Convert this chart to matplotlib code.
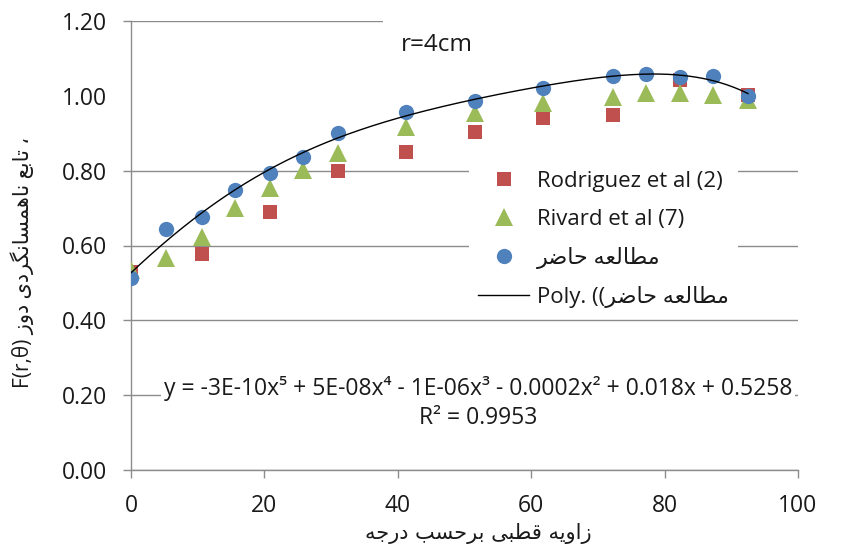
import numpy as np
import matplotlib
matplotlib.use("Agg")
import matplotlib.pyplot as plt
from matplotlib.lines import Line2D
from matplotlib.patches import Rectangle

plt.rcParams['font.family'] = ['Open Sans', 'DejaVu Sans']

# ---------------- data ----------------
angle_present = [0, 5.3, 10.6, 15.6, 20.8, 25.8, 31.0, 41.3, 51.6, 61.8, 72.2, 77.2, 82.3, 87.3, 92.5]
f_present = [0.513, 0.644, 0.676, 0.747, 0.793, 0.836, 0.902, 0.958, 0.987, 1.021, 1.052, 1.059, 1.050, 1.053, 1.000]

angle_rivard = [0, 5.3, 10.6, 15.6, 20.8, 25.8, 31.0, 41.3, 51.6, 61.8, 72.2, 77.2, 82.3, 87.3, 92.5]
f_rivard = [0.535, 0.567, 0.624, 0.700, 0.753, 0.802, 0.848, 0.918, 0.954, 0.981, 0.998, 1.007, 1.007, 1.003, 0.989]

angle_rodriguez = [0, 10.6, 20.8, 31.0, 41.3, 51.6, 61.8, 72.2, 82.3, 92.5]
f_rodriguez = [0.530, 0.578, 0.689, 0.800, 0.851, 0.903, 0.941, 0.949, 1.043, 1.003]

x_ticks = [0, 20, 40, 60, 80, 100]
y_ticks = [0.0, 0.2, 0.4, 0.6, 0.8, 1.0, 1.2]
y_tick_labels = ['0.00', '0.20', '0.40', '0.60', '0.80', '1.00', '1.20']

# ------------- Persian shaping helper (matplotlib has no bidi/shaping) -------------
FORMS = {
    'ا': ('\uFE8D', '\uFE8E', None, None),
    'ب': ('\uFE8F', '\uFE90', '\uFE91', '\uFE92'),
    'ت': ('\uFE95', '\uFE96', '\uFE97', '\uFE98'),
    'ج': ('\uFE9D', '\uFE9E', '\uFE9F', '\uFEA0'),
    'ح': ('\uFEA1', '\uFEA2', '\uFEA3', '\uFEA4'),
    'د': ('\uFEA9', '\uFEAA', None, None),
    'ر': ('\uFEAD', '\uFEAE', None, None),
    'ز': ('\uFEAF', '\uFEB0', None, None),
    'س': ('\uFEB1', '\uFEB2', '\uFEB3', '\uFEB4'),
    'ض': ('\uFEBD', '\uFEBE', '\uFEBF', '\uFEC0'),
    'ط': ('\uFEC1', '\uFEC2', '\uFEC3', '\uFEC4'),
    'ع': ('\uFEC9', '\uFECA', '\uFECB', '\uFECC'),
    'ق': ('\uFED5', '\uFED6', '\uFED7', '\uFED8'),
    'ل': ('\uFEDD', '\uFEDE', '\uFEDF', '\uFEE0'),
    'م': ('\uFEE1', '\uFEE2', '\uFEE3', '\uFEE4'),
    'ن': ('\uFEE5', '\uFEE6', '\uFEE7', '\uFEE8'),
    'ه': ('\uFEE9', '\uFEEA', '\uFEEB', '\uFEEC'),
    'و': ('\uFEED', '\uFEEE', None, None),
    'ی': ('\uFBFC', '\uFBFD', '\uFBFE', '\uFBFF'),
    'گ': ('\uFB92', '\uFB93', '\uFB94', '\uFB95'),
}


def shape_word(word):
    out = []
    n = len(word)
    for i, ch in enumerate(word):
        if ch not in FORMS:
            out.append(ch)
            continue
        iso, fin, ini, med = FORMS[ch]
        prev = word[i - 1] if i > 0 else None
        nxt = word[i + 1] if i < n - 1 else None
        join_prev = prev in FORMS and FORMS[prev][2] is not None
        join_next = nxt in FORMS and ini is not None
        if join_prev and join_next:
            out.append(med)
        elif join_prev:
            out.append(fin)
        elif join_next:
            out.append(ini)
        else:
            out.append(iso)
    return ''.join(reversed(out))


def visual(words):
    # words given in logical (reading) order; displayed right-to-left
    return ' '.join(shape_word(w) for w in reversed(words))


present_label = visual(['مطالعه', 'حاضر'])
poly_label = 'Poly. ((' + present_label
x_label = visual(['زاویه', 'قطبی', 'برحسب', 'درجه'])
y_label = 'F(r,\u03b8) ' + visual(['تابع', 'ناهمسانگردی', 'دوز']) + ' \u060c'

# ---------------- figure ----------------
fig = plt.figure(figsize=(8.41, 5.54), dpi=100)
ax = fig.add_axes([131 / 841, 1 - 470 / 554, 667 / 841, 449 / 554])

red = '#C0504D'
green = '#9BBB59'
blue = '#4F81BD'
grid_c = '#8C8C8C'
txt_c = '#1a1a1a'

ax.set_xlim(0, 100)
ax.set_ylim(0, 1.2)
ax.set_xticks(x_ticks)
ax.set_yticks(y_ticks)
ax.set_yticklabels(y_tick_labels)
ax.set_axisbelow(True)
ax.grid(axis='y', color=grid_c, linewidth=1.0)
ax.tick_params(axis='both', labelsize=16.5, colors=grid_c, labelcolor=txt_c,
               length=6, width=1.0, direction='out')
ax.tick_params(axis='x', pad=11)
ax.tick_params(axis='y', pad=11)
for s in ['top', 'right']:
    ax.spines[s].set_visible(False)
for s in ['left', 'bottom']:
    ax.spines[s].set_color(grid_c)
    ax.spines[s].set_linewidth(1.0)

# no gridline / tick at 1.00
yt = ax.yaxis.get_major_ticks()
yt[5].gridline.set_visible(False)
yt[5].tick1line.set_visible(False)

# white area behind r=4cm box hides right part of top gridline
ax.add_patch(Rectangle((0.378, 0.975), 0.65, 0.05, transform=ax.transAxes,
                       facecolor='white', edgecolor='none', zorder=1, clip_on=False))

ax.plot(angle_rodriguez, f_rodriguez, linestyle='none', marker='s', markersize=10,
        color=red, markeredgewidth=0, zorder=3)
ax.plot(angle_rivard, f_rivard, linestyle='none', marker='^', markersize=13,
        color=green, markeredgewidth=0, zorder=4)
ax.plot(angle_present, f_present, linestyle='none', marker='o', markersize=11,
        color=blue, markeredgewidth=0, zorder=5)

coef = np.polyfit(angle_present, f_present, 5)
xs = np.linspace(min(angle_present), max(angle_present), 300)
ax.plot(xs, np.polyval(coef, xs), color='black', linewidth=1.0, zorder=6)

handles = [
    Line2D([], [], linestyle='none', marker='s', markersize=10, color=red, markeredgewidth=0),
    Line2D([], [], linestyle='none', marker='^', markersize=13, color=green, markeredgewidth=0),
    Line2D([], [], linestyle='none', marker='o', markersize=11, color=blue, markeredgewidth=0),
    Line2D([], [], color='black', linewidth=1.0),
]
labels = ['Rodriguez et al (2)', 'Rivard et al (7)', present_label, poly_label]
leg = ax.legend(handles, labels, loc='upper left', bbox_to_anchor=(0.507, 0.686),
                frameon=True, facecolor='white', edgecolor='none', framealpha=1,
                fontsize=16, handlelength=2.3, handletextpad=0.35, borderaxespad=0,
                borderpad=0.4, labelspacing=0.76)
leg.set_zorder(7)
for t in leg.get_texts():
    t.set_color(txt_c)

ax.text(0.459, 0.947, 'r=4cm', transform=ax.transAxes, ha='center', va='center',
        fontsize=17.5, color=txt_c, zorder=8)

ax.text(0.520, 0.1826,
        'y = -3E-10x\u2075 + 5E-08x\u2074 - 1E-06x\u00b3 - 0.0002x\u00b2 + 0.018x + 0.5258',
        transform=ax.transAxes, ha='center', va='center', fontsize=16.5, color=txt_c,
        bbox=dict(facecolor='white', edgecolor='none', pad=2), zorder=8)
ax.text(0.520, 0.116, 'R\u00b2 = 0.9953', transform=ax.transAxes, ha='center',
        va='center', fontsize=16.5, color=txt_c, zorder=8)

fig.text(478 / 841, 1 - 533 / 554, x_label, ha='center', va='center', fontsize=15,
         color=txt_c, family=['DejaVu Sans'])
fig.text(22 / 841, 1 - 262 / 554, y_label, ha='center', va='center', rotation=90,
         fontsize=15, color=txt_c)

fig.savefig('out.png', dpi=100)
